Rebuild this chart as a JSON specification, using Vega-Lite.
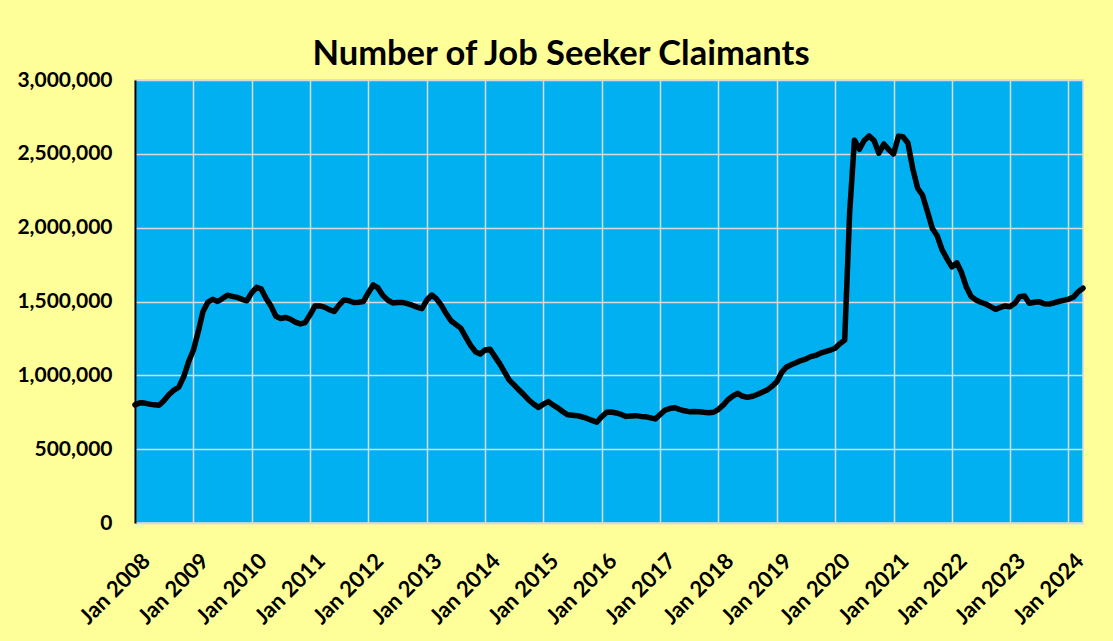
{
  "$schema": "https://vega.github.io/schema/vega-lite/v6.json",
  "width": 948,
  "height": 443,
  "autosize": {"type": "none"},
  "padding": {"left": 135, "top": 80, "right": 30, "bottom": 118},
  "background": "#FFFF99",
  "title": {
    "text": "Number of Job Seeker Claimants",
    "font": "Lato",
    "fontSize": 34.5,
    "fontWeight": "bold",
    "color": "#000000",
    "anchor": "middle",
    "dx": -48,
    "dy": 44,
    "offset": 14,
    "baseline": "alphabetic"
  },
  "config": {
    "view": {"fill": "#00B0F0", "stroke": "#D9D9D9", "strokeWidth": 1.5}
  },
  "datasets": {
    "claimants": [
      {"d": "2008-01-01", "v": 800000}, {"d": "2008-02-01", "v": 815000}, {"d": "2008-03-01", "v": 812000}, {"d": "2008-04-01", "v": 805000}, {"d": "2008-05-01", "v": 800000}, {"d": "2008-06-01", "v": 798000}, {"d": "2008-07-01", "v": 830000}, {"d": "2008-08-01", "v": 870000}, {"d": "2008-09-01", "v": 900000}, {"d": "2008-10-01", "v": 920000}, {"d": "2008-11-01", "v": 990000}, {"d": "2008-12-01", "v": 1090000},
      {"d": "2009-01-01", "v": 1172000}, {"d": "2009-02-01", "v": 1300000}, {"d": "2009-03-01", "v": 1430000}, {"d": "2009-04-01", "v": 1495000}, {"d": "2009-05-01", "v": 1515000}, {"d": "2009-06-01", "v": 1500000}, {"d": "2009-07-01", "v": 1520000}, {"d": "2009-08-01", "v": 1543000}, {"d": "2009-09-01", "v": 1535000}, {"d": "2009-10-01", "v": 1528000}, {"d": "2009-11-01", "v": 1515000}, {"d": "2009-12-01", "v": 1505000},
      {"d": "2010-01-01", "v": 1560000}, {"d": "2010-02-01", "v": 1596000}, {"d": "2010-03-01", "v": 1585000}, {"d": "2010-04-01", "v": 1520000}, {"d": "2010-05-01", "v": 1470000}, {"d": "2010-06-01", "v": 1400000}, {"d": "2010-07-01", "v": 1385000}, {"d": "2010-08-01", "v": 1392000}, {"d": "2010-09-01", "v": 1380000}, {"d": "2010-10-01", "v": 1360000}, {"d": "2010-11-01", "v": 1348000}, {"d": "2010-12-01", "v": 1357000},
      {"d": "2011-01-01", "v": 1410000}, {"d": "2011-02-01", "v": 1470000}, {"d": "2011-03-01", "v": 1470000}, {"d": "2011-04-01", "v": 1462000}, {"d": "2011-05-01", "v": 1445000}, {"d": "2011-06-01", "v": 1432000}, {"d": "2011-07-01", "v": 1475000}, {"d": "2011-08-01", "v": 1510000}, {"d": "2011-09-01", "v": 1505000}, {"d": "2011-10-01", "v": 1493000}, {"d": "2011-11-01", "v": 1495000}, {"d": "2011-12-01", "v": 1500000},
      {"d": "2012-01-01", "v": 1560000}, {"d": "2012-02-01", "v": 1612000}, {"d": "2012-03-01", "v": 1592000}, {"d": "2012-04-01", "v": 1540000}, {"d": "2012-05-01", "v": 1510000}, {"d": "2012-06-01", "v": 1490000}, {"d": "2012-07-01", "v": 1493000}, {"d": "2012-08-01", "v": 1494000}, {"d": "2012-09-01", "v": 1485000}, {"d": "2012-10-01", "v": 1475000}, {"d": "2012-11-01", "v": 1462000}, {"d": "2012-12-01", "v": 1452000},
      {"d": "2013-01-01", "v": 1510000}, {"d": "2013-02-01", "v": 1544000}, {"d": "2013-03-01", "v": 1520000}, {"d": "2013-04-01", "v": 1475000}, {"d": "2013-05-01", "v": 1420000}, {"d": "2013-06-01", "v": 1370000}, {"d": "2013-07-01", "v": 1345000}, {"d": "2013-08-01", "v": 1320000}, {"d": "2013-09-01", "v": 1260000}, {"d": "2013-10-01", "v": 1205000}, {"d": "2013-11-01", "v": 1160000}, {"d": "2013-12-01", "v": 1144000},
      {"d": "2014-01-01", "v": 1172000}, {"d": "2014-02-01", "v": 1176000}, {"d": "2014-03-01", "v": 1130000}, {"d": "2014-04-01", "v": 1081000}, {"d": "2014-05-01", "v": 1025000}, {"d": "2014-06-01", "v": 968000}, {"d": "2014-07-01", "v": 935000}, {"d": "2014-08-01", "v": 901000}, {"d": "2014-09-01", "v": 868000}, {"d": "2014-10-01", "v": 833000}, {"d": "2014-11-01", "v": 805000}, {"d": "2014-12-01", "v": 783000},
      {"d": "2015-01-01", "v": 805000}, {"d": "2015-02-01", "v": 822000}, {"d": "2015-03-01", "v": 800000}, {"d": "2015-04-01", "v": 780000}, {"d": "2015-05-01", "v": 755000}, {"d": "2015-06-01", "v": 733000}, {"d": "2015-07-01", "v": 730000}, {"d": "2015-08-01", "v": 727000}, {"d": "2015-09-01", "v": 718000}, {"d": "2015-10-01", "v": 708000}, {"d": "2015-11-01", "v": 695000}, {"d": "2015-12-01", "v": 682000},
      {"d": "2016-01-01", "v": 720000}, {"d": "2016-02-01", "v": 750000}, {"d": "2016-03-01", "v": 752000}, {"d": "2016-04-01", "v": 745000}, {"d": "2016-05-01", "v": 735000}, {"d": "2016-06-01", "v": 722000}, {"d": "2016-07-01", "v": 725000}, {"d": "2016-08-01", "v": 727000}, {"d": "2016-09-01", "v": 722000}, {"d": "2016-10-01", "v": 720000}, {"d": "2016-11-01", "v": 712000}, {"d": "2016-12-01", "v": 705000},
      {"d": "2017-01-01", "v": 735000}, {"d": "2017-02-01", "v": 765000}, {"d": "2017-03-01", "v": 775000}, {"d": "2017-04-01", "v": 781000}, {"d": "2017-05-01", "v": 770000}, {"d": "2017-06-01", "v": 760000}, {"d": "2017-07-01", "v": 754000}, {"d": "2017-08-01", "v": 755000}, {"d": "2017-09-01", "v": 754000}, {"d": "2017-10-01", "v": 750000}, {"d": "2017-11-01", "v": 747000}, {"d": "2017-12-01", "v": 750000},
      {"d": "2018-01-01", "v": 770000}, {"d": "2018-02-01", "v": 800000}, {"d": "2018-03-01", "v": 835000}, {"d": "2018-04-01", "v": 860000}, {"d": "2018-05-01", "v": 878000}, {"d": "2018-06-01", "v": 858000}, {"d": "2018-07-01", "v": 851000}, {"d": "2018-08-01", "v": 858000}, {"d": "2018-09-01", "v": 870000}, {"d": "2018-10-01", "v": 885000}, {"d": "2018-11-01", "v": 900000}, {"d": "2018-12-01", "v": 925000},
      {"d": "2019-01-01", "v": 957000}, {"d": "2019-02-01", "v": 1020000}, {"d": "2019-03-01", "v": 1055000}, {"d": "2019-04-01", "v": 1072000}, {"d": "2019-05-01", "v": 1085000}, {"d": "2019-06-01", "v": 1100000}, {"d": "2019-07-01", "v": 1110000}, {"d": "2019-08-01", "v": 1127000}, {"d": "2019-09-01", "v": 1135000}, {"d": "2019-10-01", "v": 1150000}, {"d": "2019-11-01", "v": 1160000}, {"d": "2019-12-01", "v": 1170000},
      {"d": "2020-01-01", "v": 1183000}, {"d": "2020-02-01", "v": 1215000}, {"d": "2020-03-01", "v": 1239000}, {"d": "2020-04-01", "v": 2100000}, {"d": "2020-05-01", "v": 2594000}, {"d": "2020-06-01", "v": 2531000}, {"d": "2020-07-01", "v": 2590000}, {"d": "2020-08-01", "v": 2621000}, {"d": "2020-09-01", "v": 2590000}, {"d": "2020-10-01", "v": 2504000}, {"d": "2020-11-01", "v": 2567000}, {"d": "2020-12-01", "v": 2530000},
      {"d": "2021-01-01", "v": 2499000}, {"d": "2021-02-01", "v": 2620000}, {"d": "2021-03-01", "v": 2616000}, {"d": "2021-04-01", "v": 2573000}, {"d": "2021-05-01", "v": 2400000}, {"d": "2021-06-01", "v": 2267000}, {"d": "2021-07-01", "v": 2221000}, {"d": "2021-08-01", "v": 2110000}, {"d": "2021-09-01", "v": 1995000}, {"d": "2021-10-01", "v": 1945000}, {"d": "2021-11-01", "v": 1850000}, {"d": "2021-12-01", "v": 1790000},
      {"d": "2022-01-01", "v": 1734000}, {"d": "2022-02-01", "v": 1762000}, {"d": "2022-03-01", "v": 1700000}, {"d": "2022-04-01", "v": 1600000}, {"d": "2022-05-01", "v": 1535000}, {"d": "2022-06-01", "v": 1510000}, {"d": "2022-07-01", "v": 1495000}, {"d": "2022-08-01", "v": 1483000}, {"d": "2022-09-01", "v": 1465000}, {"d": "2022-10-01", "v": 1447000}, {"d": "2022-11-01", "v": 1460000}, {"d": "2022-12-01", "v": 1470000},
      {"d": "2023-01-01", "v": 1465000}, {"d": "2023-02-01", "v": 1490000}, {"d": "2023-03-01", "v": 1533000}, {"d": "2023-04-01", "v": 1537000}, {"d": "2023-05-01", "v": 1488000}, {"d": "2023-06-01", "v": 1495000}, {"d": "2023-07-01", "v": 1499000}, {"d": "2023-08-01", "v": 1485000}, {"d": "2023-09-01", "v": 1483000}, {"d": "2023-10-01", "v": 1490000}, {"d": "2023-11-01", "v": 1500000}, {"d": "2023-12-01", "v": 1508000},
      {"d": "2024-01-01", "v": 1515000}, {"d": "2024-02-01", "v": 1530000}, {"d": "2024-03-01", "v": 1565000}, {"d": "2024-04-01", "v": 1590000}
    ]
  },
  "data": {"name": "claimants"},
  "mark": {"type": "line", "color": "#000000", "strokeWidth": 5.5, "strokeJoin": "round", "strokeCap": "round"},
  "encoding": {
    "x": {
      "field": "d",
      "type": "temporal",
      "scale": {
        "type": "utc",
        "domain": [{"year": 2008, "month": 1, "date": 1, "utc": true}, {"year": 2024, "month": 4, "date": 1, "utc": true}]
      },
      "axis": {
        "title": null,
        "values": [
          {"year": 2008, "month": 1, "date": 1, "utc": true}, {"year": 2009, "month": 1, "date": 1, "utc": true}, {"year": 2010, "month": 1, "date": 1, "utc": true}, {"year": 2011, "month": 1, "date": 1, "utc": true}, {"year": 2012, "month": 1, "date": 1, "utc": true}, {"year": 2013, "month": 1, "date": 1, "utc": true}, {"year": 2014, "month": 1, "date": 1, "utc": true}, {"year": 2015, "month": 1, "date": 1, "utc": true}, {"year": 2016, "month": 1, "date": 1, "utc": true}, {"year": 2017, "month": 1, "date": 1, "utc": true}, {"year": 2018, "month": 1, "date": 1, "utc": true}, {"year": 2019, "month": 1, "date": 1, "utc": true}, {"year": 2020, "month": 1, "date": 1, "utc": true}, {"year": 2021, "month": 1, "date": 1, "utc": true}, {"year": 2022, "month": 1, "date": 1, "utc": true}, {"year": 2023, "month": 1, "date": 1, "utc": true}, {"year": 2024, "month": 1, "date": 1, "utc": true}
        ],
        "format": "%b %Y",
        "labelAngle": -45,
        "labelAlign": "right",
        "labelBaseline": "top",
        "labelPadding": 27,
        "labelOffset": 4,
        "labelFont": "Lato",
        "labelFontSize": 22,
        "labelFontWeight": "bold",
        "labelColor": "#000000",
        "labelOverlap": false,
        "labelBound": false,
        "labelFlush": false,
        "ticks": false,
        "tickSize": 0,
        "grid": true,
        "gridColor": "#D9D9D9",
        "gridWidth": 1.5,
        "domainColor": "#D9D9D9",
        "domainWidth": 1.5
      }
    },
    "y": {
      "field": "v",
      "type": "quantitative",
      "scale": {"domain": [0, 3000000], "nice": false, "zero": true},
      "axis": {
        "title": null,
        "values": [0, 500000, 1000000, 1500000, 2000000, 2500000, 3000000],
        "format": ",d",
        "labelFont": "Lato",
        "labelFontSize": 21,
        "labelFontWeight": "bold",
        "labelColor": "#000000",
        "labelPadding": 23,
        "ticks": false,
        "tickSize": 0,
        "grid": true,
        "gridColor": "#D9D9D9",
        "gridWidth": 1.5,
        "domainColor": "#000000",
        "domainWidth": 2
      }
    }
  }
}
